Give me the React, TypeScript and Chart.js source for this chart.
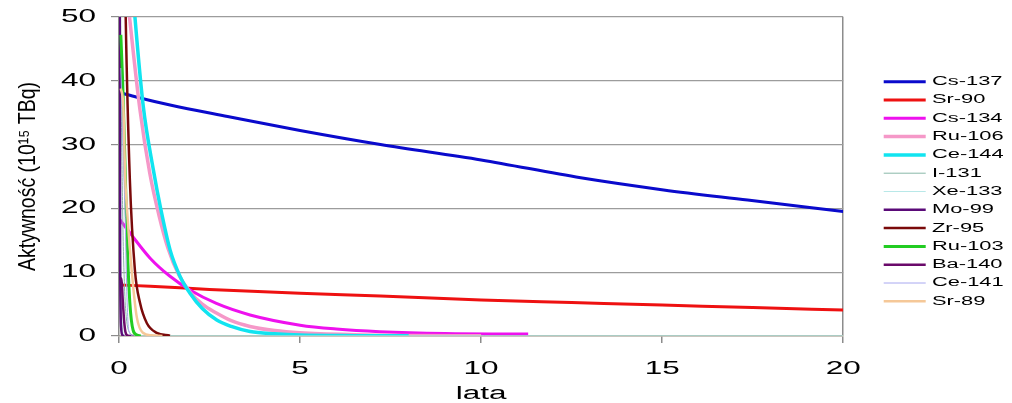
import { useEffect, useRef } from 'react';
import { Chart, registerables } from 'chart.js';

Chart.register(...registerables);

// ---- data ----
const SERIES_LABELS = ['Cs-137', 'Sr-90', 'Cs-134', 'Ru-106', 'Ce-144', 'I-131', 'Xe-133', 'Mo-99', 'Zr-95', 'Ru-103', 'Ba-140', 'Ce-141', 'Sr-89'];
const X_TICKS = [0, 5, 10, 15, 20];
const Y_TICKS = [0, 10, 20, 30, 40, 50];
const X_TITLE = 'lata';
const Y_TITLE = 'Aktywność (10¹⁵ TBq)';

const CS137: [number, number][] = [[0.12, 38.0], [0.58, 37.3], [1.41, 36.2], [3, 34.4], [5, 32.2], [7.22, 30.0], [10, 27.6], [12.75, 24.8], [15.04, 22.9], [17.36, 21.3], [20, 19.5]];
const SR90: [number, number][] = [[0.03, 8.0], [0.86, 7.8], [2.5, 7.3], [5, 6.7], [7.22, 6.27], [10, 5.64], [12.5, 5.25], [15, 4.86], [17.5, 4.45], [20, 4.08]];
const CS134: [number, number][] = [[0.03, 18.2], [0.35, 15.8], [0.86, 12.2], [1.4, 9.4], [1.96, 7.2], [2.69, 5.1], [3.62, 3.3], [5, 1.7], [6, 1.1], [7.2, 0.68], [9, 0.38], [11.3, 0.3]];
const RU106: [number, number][] = [[0.22, 54], [0.3, 49.5], [0.58, 35.4], [0.85, 25.5], [1.1, 19], [1.35, 13.8], [1.65, 9.6], [1.96, 6.9], [2.3, 5.0], [2.69, 3.6], [3.1, 2.4], [3.62, 1.5], [4.3, 0.85], [5, 0.5], [6.5, 0.2], [8, 0.08], [10, 0.03]];
const CE144: [number, number][] = [[0.36, 56], [0.44, 50], [0.67, 36], [0.95, 26], [1.15, 20], [1.41, 13.5], [1.69, 9.3], [1.96, 6.7], [2.3, 4.3], [2.7, 2.5], [3.1, 1.5], [3.62, 0.7], [4.3, 0.35], [5, 0.15], [6.5, 0.05], [8, 0.02]];
const I131: [number, number][] = [[0, 120], [0.05, 48], [0.1, 20], [0.15, 8], [0.2, 3], [0.3, 0.5], [0.45, 0], [20, 0]];
const XE133: [number, number][] = [[0, 400], [0.04, 30], [0.08, 3], [0.12, 0.3], [0.2, 0], [20, 0]];
const MO99: [number, number][] = [[0, 150], [0.03, 14], [0.06, 1.2], [0.1, 0.1], [0.15, 0]];
const ZR95: [number, number][] = [[0.1, 85], [0.185, 50], [0.3, 24.5], [0.44, 10.3], [0.58, 5.2], [0.77, 2.0], [1.04, 0.5], [1.41, 0.05]];
const RU103: [number, number][] = [[0.05, 47.2], [0.1, 40], [0.17, 26], [0.23, 14], [0.3, 5.2], [0.39, 0.9], [0.5, 0.15], [0.6, 0]];
const BA140: [number, number][] = [[0.03, 8.8], [0.07, 9.0], [0.1, 6], [0.14, 2.5], [0.18, 0.6], [0.25, 0.05], [0.4, 0]];
const CE141: [number, number][] = [[0.05, 42], [0.12, 28], [0.17, 18.6], [0.21, 8], [0.25, 2], [0.3, 0.4], [0.4, 0]];
const SR89: [number, number][] = [[0.05, 38.8], [0.12, 36], [0.17, 25], [0.21, 20.8], [0.35, 10.3], [0.49, 3], [0.66, 0.5], [0.9, 0.1], [1.2, 0]];

const SERIES_DATA = [CS137, SR90, CS134, RU106, CE144, I131, XE133, MO99, ZR95, RU103, BA140, CE141, SR89];

// ---- styles ----
const COLORS = ['#0a0acc', '#ee1111', '#ee11ee', '#f598c8', '#11e4f0', '#88b8a8', '#b8e8e8', '#5a0a78', '#7a0a0a', '#22cc22', '#6a0a6a', '#a8a8f0', '#f5c898'];
const WIDTHS = [3, 3, 3, 3.5, 3.5, 1, 1, 2.5, 2.5, 3, 2.5, 1, 2.5];

const FONT = '"Liberation Sans", Arial, sans-serif';
const TEXT_SX = 1.75;
const TEXT_SY_ROT = 1.2;
const GRID = '#9c9c9c';
const AXIS = '#8c8c8c';

function stretchText(ctx: CanvasRenderingContext2D) {
  const c = ctx as any;
  if (c.__stretched) return;
  c.__stretched = true;
  const fill = ctx.fillText.bind(ctx);
  const measure = ctx.measureText.bind(ctx);
  c.fillText = function (text: string, x: number, y: number, maxWidth?: number) {
    const m = ctx.getTransform();
    const rotated = Math.abs(m.b) > 1e-6 || Math.abs(m.c) > 1e-6;
    ctx.save();
    ctx.translate(x, y);
    if (rotated) ctx.scale(1, TEXT_SY_ROT);
    else ctx.scale(TEXT_SX, 1);
    if (maxWidth !== undefined && maxWidth !== null && isFinite(maxWidth)) {
      fill(text, 0, 0, rotated ? maxWidth : maxWidth / TEXT_SX);
    } else {
      fill(text, 0, 0);
    }
    ctx.restore();
  };
  c.measureText = function (text: string) {
    const r = measure(text);
    return {
      width: r.width * TEXT_SX,
      actualBoundingBoxLeft: r.actualBoundingBoxLeft * TEXT_SX,
      actualBoundingBoxRight: r.actualBoundingBoxRight * TEXT_SX,
      actualBoundingBoxAscent: r.actualBoundingBoxAscent,
      actualBoundingBoxDescent: r.actualBoundingBoxDescent,
      fontBoundingBoxAscent: r.fontBoundingBoxAscent,
      fontBoundingBoxDescent: r.fontBoundingBoxDescent,
    };
  };
}

export default function App() {
  const ref = useRef<HTMLCanvasElement>(null);

  useEffect(() => {
    const canvas = ref.current;
    if (!canvas) return;
    const ctx = canvas.getContext('2d');
    if (ctx) stretchText(ctx);

    const datasets = SERIES_LABELS.map((label, i) => ({
      label,
      data: SERIES_DATA[i].map(([x, y]) => ({ x, y })),
      borderColor: COLORS[i],
      backgroundColor: COLORS[i],
      borderWidth: WIDTHS[i],
      pointRadius: 0,
      pointHoverRadius: 0,
      pointBorderColor: COLORS[i],
      pointBackgroundColor: COLORS[i],
      pointBorderWidth: WIDTHS[i],
      pointStyle: 'line' as const,
      cubicInterpolationMode: 'monotone' as const,
      fill: false,
      order: -i,
    }));

    const chart = new Chart(canvas, {
      type: 'line',
      data: { datasets },
      options: {
        animation: false,
        responsive: true,
        maintainAspectRatio: false,
        layout: { padding: { left: 0, top: 17, right: -1.7, bottom: 0 } },
        plugins: {
          tooltip: { enabled: false },
          legend: {
            position: 'right',
            align: 'center',
            fullSize: false,
            title: { display: true, text: ' ', font: { size: 10, family: FONT }, padding: { top: 9, bottom: 9 } },
            labels: {
              usePointStyle: true,
              pointStyle: 'line',
              pointStyleWidth: 42,
              boxHeight: 12.5,
              padding: 5.8,
              color: '#000',
              font: { size: 12.5, family: FONT },
              sort: (a: any, b: any) => a.datasetIndex - b.datasetIndex,
            },
          },
        },
        scales: {
          x: {
            type: 'linear',
            min: X_TICKS[0],
            max: X_TICKS[X_TICKS.length - 1],
            afterFit: (s: any) => { s.height = 67; },
            ticks: {
              stepSize: X_TICKS[1] - X_TICKS[0],
              color: '#000',
              padding: 15,
              font: { size: 18, family: FONT, lineHeight: 1.2 },
              maxRotation: 0,
              autoSkip: false,
            },
            grid: {
              color: (c: any) => (c.tick && c.tick.value === X_TICKS[X_TICKS.length - 1] ? AXIS : 'rgba(0,0,0,0)'),
              tickColor: AXIS,
              tickLength: 7,
              lineWidth: 1.5,
            },
            border: { display: true, color: '#b0a898', width: 1.5 },
            title: {
              display: true,
              text: X_TITLE,
              color: '#000',
              font: { size: 18, family: FONT, lineHeight: 1 },
              padding: { top: 0, bottom: 0 },
            },
          },
          y: {
            type: 'linear',
            min: Y_TICKS[0],
            max: Y_TICKS[Y_TICKS.length - 1],
            afterFit: (s: any) => { s.width = 119; },
            ticks: {
              stepSize: Y_TICKS[1] - Y_TICKS[0],
              color: '#000',
              padding: 15,
              font: { size: 18, family: FONT, lineHeight: 0.2 },
            },
            grid: { color: GRID, tickColor: AXIS, tickLength: 8, lineWidth: 1.2 },
            border: { display: true, color: AXIS, width: 1.5 },
            title: {
              display: true,
              text: Y_TITLE,
              color: '#000',
              font: { size: 19.5, family: FONT, lineHeight: 1 },
              padding: { top: 19, bottom: 0 },
            },
          },
          y2: {
            type: 'linear',
            position: 'right',
            display: true,
            afterFit: (s: any) => { s.width = 34.7; },
            ticks: { display: false },
            grid: { display: false, drawTicks: false },
            border: { display: false },
          },
        },
      },
    });

    return () => chart.destroy();
  }, []);

  return (
    <div style={{ position: 'fixed', left: 0, top: 0, width: 1012, height: 403, background: '#fff' }}>
      <canvas ref={ref} />
    </div>
  );
}
